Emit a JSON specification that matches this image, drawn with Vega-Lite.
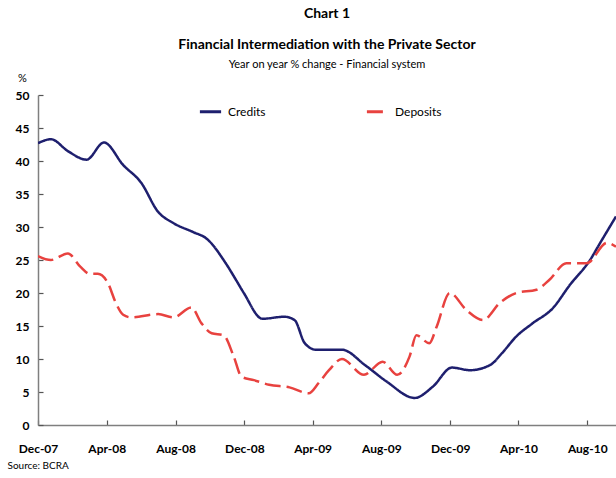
{
  "$schema": "https://vega.github.io/schema/vega-lite/v6.json",
  "width": 578,
  "height": 330,
  "autosize": {"type": "none"},
  "padding": {"left": 38, "top": 95, "right": 0, "bottom": 53},
  "background": "white",
  "config": {"view": {"stroke": null}, "font": "Lato"},
  "title": {
    "text": ["Chart 1", "Financial Intermediation with the Private Sector"],
    "subtitle": "Year on year % change - Financial system",
    "fontSize": 14,
    "fontWeight": "bold",
    "lineHeight": 31,
    "subtitleFontSize": 11,
    "subtitlePadding": 7,
    "anchor": "middle",
    "offset": 2,
    "color": "black",
    "subtitleColor": "black",
    "font": "Lato",
    "subtitleFont": "Lato"
  },
  "data": {
    "values": [
      {"date": "2007-12-01", "series": "Credits", "value": 42.7},
      {"date": "2007-12-24", "series": "Credits", "value": 43.3},
      {"date": "2008-01-23", "series": "Credits", "value": 41.5},
      {"date": "2008-02-25", "series": "Credits", "value": 40.2},
      {"date": "2008-03-27", "series": "Credits", "value": 42.8},
      {"date": "2008-04-30", "series": "Credits", "value": 39.4},
      {"date": "2008-06-01", "series": "Credits", "value": 36.7},
      {"date": "2008-07-01", "series": "Credits", "value": 32.3},
      {"date": "2008-07-28", "series": "Credits", "value": 30.6},
      {"date": "2008-09-02", "series": "Credits", "value": 29.2},
      {"date": "2008-09-24", "series": "Credits", "value": 28.3},
      {"date": "2008-10-29", "series": "Credits", "value": 24.5},
      {"date": "2008-11-16", "series": "Credits", "value": 22.0},
      {"date": "2008-11-30", "series": "Credits", "value": 20.0},
      {"date": "2009-01-02", "series": "Credits", "value": 16.1},
      {"date": "2009-02-10", "series": "Credits", "value": 16.4},
      {"date": "2009-02-28", "series": "Credits", "value": 15.9},
      {"date": "2009-03-18", "series": "Credits", "value": 12.4},
      {"date": "2009-04-07", "series": "Credits", "value": 11.4},
      {"date": "2009-05-23", "series": "Credits", "value": 11.4},
      {"date": "2009-07-04", "series": "Credits", "value": 9.0},
      {"date": "2009-08-10", "series": "Credits", "value": 6.6},
      {"date": "2009-09-29", "series": "Credits", "value": 4.1},
      {"date": "2009-10-31", "series": "Credits", "value": 5.8},
      {"date": "2009-12-04", "series": "Credits", "value": 8.7},
      {"date": "2010-01-05", "series": "Credits", "value": 8.3},
      {"date": "2010-02-10", "series": "Credits", "value": 9.1},
      {"date": "2010-03-03", "series": "Credits", "value": 10.9},
      {"date": "2010-03-28", "series": "Credits", "value": 13.4},
      {"date": "2010-04-26", "series": "Credits", "value": 15.4},
      {"date": "2010-06-01", "series": "Credits", "value": 17.7},
      {"date": "2010-07-01", "series": "Credits", "value": 21.2},
      {"date": "2010-08-06", "series": "Credits", "value": 25.0},
      {"date": "2010-08-24", "series": "Credits", "value": 27.6},
      {"date": "2010-09-21", "series": "Credits", "value": 31.6},
      {"date": "2007-12-01", "series": "Deposits", "value": 25.6},
      {"date": "2007-12-24", "series": "Deposits", "value": 25.0},
      {"date": "2008-01-23", "series": "Deposits", "value": 26.0},
      {"date": "2008-02-14", "series": "Deposits", "value": 24.0},
      {"date": "2008-03-02", "series": "Deposits", "value": 22.9},
      {"date": "2008-03-16", "series": "Deposits", "value": 22.9},
      {"date": "2008-04-03", "series": "Deposits", "value": 21.5},
      {"date": "2008-04-17", "series": "Deposits", "value": 18.5},
      {"date": "2008-04-30", "series": "Deposits", "value": 16.7},
      {"date": "2008-05-14", "series": "Deposits", "value": 16.3},
      {"date": "2008-07-01", "series": "Deposits", "value": 16.8},
      {"date": "2008-07-28", "series": "Deposits", "value": 16.3},
      {"date": "2008-08-29", "series": "Deposits", "value": 17.8},
      {"date": "2008-09-16", "series": "Deposits", "value": 15.4},
      {"date": "2008-10-04", "series": "Deposits", "value": 13.9},
      {"date": "2008-10-25", "series": "Deposits", "value": 13.6},
      {"date": "2008-11-12", "series": "Deposits", "value": 10.4},
      {"date": "2008-11-26", "series": "Deposits", "value": 7.3},
      {"date": "2008-12-18", "series": "Deposits", "value": 6.8},
      {"date": "2009-01-14", "series": "Deposits", "value": 6.1},
      {"date": "2009-02-19", "series": "Deposits", "value": 5.7},
      {"date": "2009-03-25", "series": "Deposits", "value": 4.8},
      {"date": "2009-04-12", "series": "Deposits", "value": 6.4},
      {"date": "2009-04-30", "series": "Deposits", "value": 8.3},
      {"date": "2009-05-23", "series": "Deposits", "value": 10.0},
      {"date": "2009-07-01", "series": "Deposits", "value": 7.6},
      {"date": "2009-08-03", "series": "Deposits", "value": 9.6},
      {"date": "2009-08-29", "series": "Deposits", "value": 7.6},
      {"date": "2009-09-20", "series": "Deposits", "value": 10.4},
      {"date": "2009-10-02", "series": "Deposits", "value": 13.6},
      {"date": "2009-10-25", "series": "Deposits", "value": 12.4},
      {"date": "2009-11-07", "series": "Deposits", "value": 14.9},
      {"date": "2009-11-30", "series": "Deposits", "value": 20.0},
      {"date": "2009-12-30", "series": "Deposits", "value": 17.4},
      {"date": "2010-01-28", "series": "Deposits", "value": 15.9},
      {"date": "2010-02-27", "series": "Deposits", "value": 18.5},
      {"date": "2010-03-28", "series": "Deposits", "value": 20.0},
      {"date": "2010-05-03", "series": "Deposits", "value": 20.5},
      {"date": "2010-05-26", "series": "Deposits", "value": 22.0},
      {"date": "2010-06-25", "series": "Deposits", "value": 24.5},
      {"date": "2010-07-31", "series": "Deposits", "value": 24.5},
      {"date": "2010-09-05", "series": "Deposits", "value": 27.6},
      {"date": "2010-09-21", "series": "Deposits", "value": 27.0}
    ]
  },
  "mark": {"type": "line", "interpolate": "monotone", "strokeWidth": 2.5, "clip": true},
  "encoding": {
    "x": {
      "field": "date",
      "type": "temporal",
      "scale": {
        "type": "utc",
        "domain": [
          {"year": 2007, "month": 12, "date": 1, "utc": true},
          {"year": 2010, "month": 9, "date": 21, "utc": true}
        ]
      },
      "axis": {
        "values": [
          {"year": 2007, "month": 12, "date": 1, "utc": true},
          {"year": 2008, "month": 4, "date": 1, "utc": true},
          {"year": 2008, "month": 8, "date": 1, "utc": true},
          {"year": 2008, "month": 12, "date": 1, "utc": true},
          {"year": 2009, "month": 4, "date": 1, "utc": true},
          {"year": 2009, "month": 8, "date": 1, "utc": true},
          {"year": 2009, "month": 12, "date": 1, "utc": true},
          {"year": 2010, "month": 4, "date": 1, "utc": true},
          {"year": 2010, "month": 8, "date": 1, "utc": true}
        ],
        "labelExpr": "utcFormat(datum.value, '%b-%y')",
        "grid": false,
        "domainColor": "#7f7f7f",
        "domainWidth": 1.5,
        "tickColor": "#555555",
        "tickSize": -5,
        "tickWidth": 1.2,
        "labelPadding": 23,
        "labelFontSize": 12,
        "labelFontWeight": "bold",
        "labelColor": "black",
        "labelFlush": false,
        "labelOverlap": false,
        "title": "Source: BCRA",
        "titleFontSize": 10,
        "titleFontWeight": "normal",
        "titleColor": "black",
        "titleAnchor": "start",
        "titleAlign": "left",
        "titleBaseline": "top",
        "titleX": -31,
        "titleY": 35
      }
    },
    "y": {
      "field": "value",
      "type": "quantitative",
      "scale": {"domain": [0, 50], "nice": false, "zero": true},
      "axis": {
        "values": [0, 5, 10, 15, 20, 25, 30, 35, 40, 45, 50],
        "grid": false,
        "domainColor": "#7f7f7f",
        "domainWidth": 1.5,
        "tickColor": "#555555",
        "tickSize": -5,
        "tickWidth": 1.2,
        "labelPadding": 14,
        "labelFontSize": 12,
        "labelFontWeight": "bold",
        "labelColor": "black",
        "labelFlush": false,
        "title": "%",
        "titleAngle": 0,
        "titleFontSize": 11,
        "titleFontWeight": "normal",
        "titleColor": "black",
        "titleAlign": "center",
        "titleBaseline": "bottom",
        "titleX": -16,
        "titleY": -12
      }
    },
    "color": {
      "field": "series",
      "type": "nominal",
      "scale": {"domain": ["Credits", "Deposits"], "range": ["#1e1f6e", "#e8423f"]},
      "legend": {
        "title": null,
        "orient": "none",
        "legendX": 160,
        "legendY": 4,
        "direction": "horizontal",
        "columns": 2,
        "columnPadding": 94,
        "symbolType": "stroke",
        "symbolSize": 450,
        "symbolStrokeWidth": 3,
        "labelFontSize": 12,
        "labelColor": "black",
        "labelOffset": 5
      }
    },
    "strokeDash": {
      "field": "series",
      "type": "nominal",
      "scale": {"domain": ["Credits", "Deposits"], "range": [[1, 0], [16, 6]]},
      "legend": {
        "title": null,
        "orient": "none",
        "legendX": 160,
        "legendY": 4,
        "direction": "horizontal",
        "columns": 2,
        "columnPadding": 94,
        "symbolType": "stroke",
        "symbolSize": 450,
        "symbolStrokeWidth": 3,
        "labelFontSize": 12,
        "labelColor": "black",
        "labelOffset": 5
      }
    }
  }
}
